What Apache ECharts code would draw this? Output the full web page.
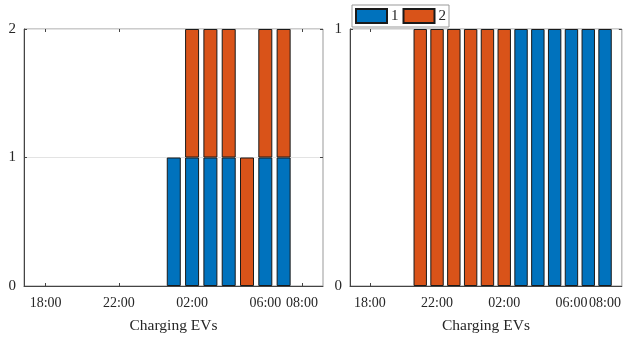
<!DOCTYPE html>
<html>
<head>
<meta charset="utf-8">
<script src="https://cdn.jsdelivr.net/npm/echarts@6/dist/echarts.min.js"></script>
<style>html,body{margin:0;padding:0;background:#fff}#chart{width:624px;height:341px}</style>
</head>
<body>
<div id="chart"></div>
<script>
// tick labels of the hour axis (both panels)
var tickLabels = ['18:00', '22:00', '02:00', '06:00', '08:00'];

// left panel, stacked number of charging EVs per hour
var leftHours = ['01:00', '02:00', '03:00', '04:00', '05:00', '06:00', '07:00'];
var leftEV1 = [1, 1, 1, 1, 0, 1, 1];
var leftEV2 = [0, 1, 1, 1, 1, 1, 1];

// right panel
var rightHours = ['21:00', '22:00', '23:00', '00:00', '01:00', '02:00', '03:00', '04:00', '05:00', '06:00', '07:00', '08:00'];
var rightEV1 = [0, 0, 0, 0, 0, 0, 1, 1, 1, 1, 1, 1];
var rightEV2 = [1, 1, 1, 1, 1, 1, 0, 0, 0, 0, 0, 0];

// hours counted from 18:00
function hourPos(s) {
    return (parseInt(s, 10) - 18 + 24) % 24;
}
var tickPos = tickLabels.map(hourPos);

// rows are [count, hour] so the stack is done on the count; empty bars left out
function rows(hours, vals) {
    return hours.map(function (h, i) { return [vals[i] ? vals[i] : '-', hourPos(h)]; });
}

var font = 'Liberation Serif';
var txt = '#262626';
var blue = '#0072BD', orange = '#D95319';

function bottomAxis(grid, max) {
    return {
        type: 'value', gridIndex: grid, position: 'bottom', min: -1.18, max: max,
        axisLine: {show: true, onZero: false, lineStyle: {color: '#444'}},
        axisTick: {show: true, inside: true, length: 3, customValues: tickPos, lineStyle: {color: '#444'}},
        axisLabel: {
            customValues: tickPos, color: txt, fontFamily: font, fontSize: 14, margin: 10,
            formatter: function (v) { return tickLabels[tickPos.indexOf(v)]; }
        },
        splitLine: {show: false},
        name: 'Charging EVs', nameLocation: 'middle', nameGap: 32,
        nameTextStyle: {color: txt, fontFamily: font, fontSize: 15.5}
    };
}
function topAxis(grid, max) {
    return {
        type: 'value', gridIndex: grid, position: 'top', min: -1.18, max: max,
        axisLine: {show: false, onZero: false},
        axisTick: {show: true, inside: true, length: 3, customValues: tickPos, lineStyle: {color: '#444'}},
        axisLabel: {show: false}, splitLine: {show: false}
    };
}
function leftAxis(grid, max) {
    return {
        type: 'value', gridIndex: grid, position: 'left', min: 0, max: max, interval: 1,
        axisLine: {show: true, onZero: false, lineStyle: {color: '#444'}},
        axisTick: {show: true, inside: true, length: 3, lineStyle: {color: '#444'}},
        axisLabel: {color: txt, fontFamily: font, fontSize: 15, margin: 8},
        splitLine: {show: true, lineStyle: {color: '#e3e3e3'}}
    };
}
function rightAxis(grid, max) {
    return {
        type: 'value', gridIndex: grid, position: 'right', min: 0, max: max, interval: 1,
        axisLine: {show: false, onZero: false},
        axisTick: {show: true, inside: true, length: 3, lineStyle: {color: '#444'}},
        axisLabel: {show: false}, splitLine: {show: false}
    };
}
function bars(name, x, y, stack, data, color, w) {
    return {
        name: name, type: 'bar', xAxisIndex: x, yAxisIndex: y, stack: stack,
        barWidth: w, data: data, encode: {x: 1, y: 0},
        itemStyle: {color: color, borderColor: '#1a1a1a', borderWidth: 1}
    };
}

var option = {
    animation: false,
    backgroundColor: '#fff',
    grid: [
        {left: 24, top: 29, width: 299, height: 257, show: true, borderColor: '#999', borderWidth: 1},
        {left: 350, top: 29, width: 273, height: 257, show: true, borderColor: '#999', borderWidth: 1}
    ],
    legend: {
        data: ['1', '2'], left: 352, top: 5, orient: 'horizontal',
        icon: 'rect', itemWidth: 31, itemHeight: 14, itemGap: 4,
        padding: [3, 3, 3, 3], borderColor: '#999', borderWidth: 1, backgroundColor: '#fff',
        textStyle: {color: txt, fontFamily: font, fontSize: 15, padding: [0, 0, 0, -1]}
    },
    xAxis: [bottomAxis(0, 15.15), topAxis(0, 15.15), bottomAxis(1, 15.0), topAxis(1, 15.0)],
    yAxis: [leftAxis(0, 2), rightAxis(0, 2), leftAxis(1, 1), rightAxis(1, 1)],
    series: [
        bars('1', 0, 0, 'left', rows(leftHours, leftEV1), blue, 14),
        bars('2', 0, 0, 'left', rows(leftHours, leftEV2), orange, 14),
        bars('1', 2, 2, 'right', rows(rightHours, rightEV1), blue, 13.4),
        bars('2', 2, 2, 'right', rows(rightHours, rightEV2), orange, 13.4)
    ]
};

var myChart = echarts.init(document.getElementById('chart'));
myChart.setOption(option);
</script>
</body>
</html>
